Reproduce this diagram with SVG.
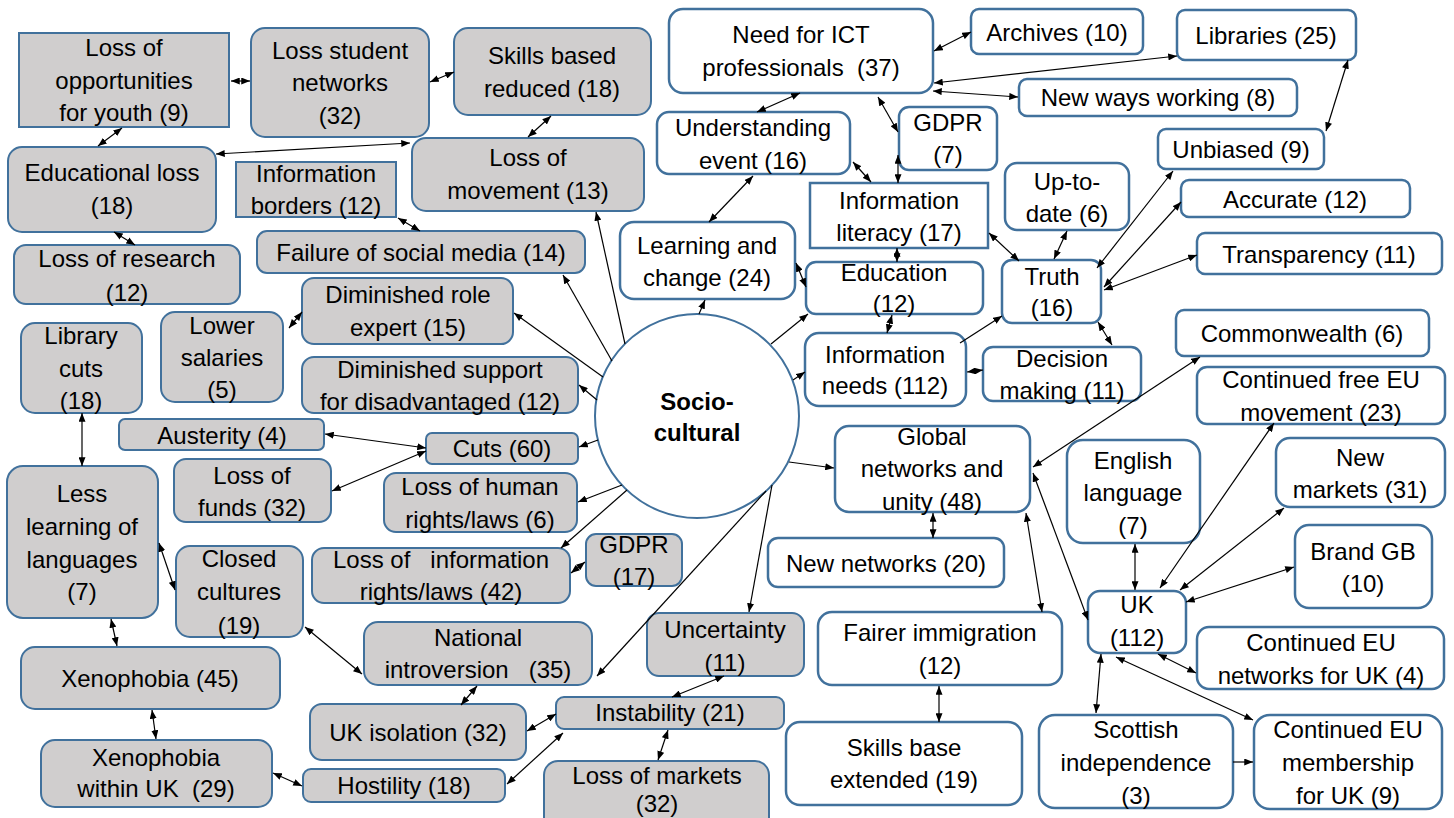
<svg xmlns="http://www.w3.org/2000/svg" width="1454" height="818" viewBox="0 0 1454 818">
<defs>
<marker id="ah" viewBox="0 0 10 8" refX="10" refY="4" markerWidth="9" markerHeight="7" markerUnits="userSpaceOnUse" orient="auto-start-reverse"><path d="M0,0 L10,4 L0,8 z" fill="#000"/></marker>
<style>
.g{fill:#d0cece;stroke:#41719c;stroke-width:2}
.w{fill:#fff;stroke:#41719c;stroke-width:2.5}
text{font-family:"Liberation Sans",Arial,sans-serif;font-size:24px;fill:#000;text-anchor:middle;white-space:pre}
.b{font-weight:bold}
#connectors line{stroke:#000;stroke-width:1.2;fill:none}
.d{marker-start:url(#ah);marker-end:url(#ah)}
.o{marker-end:url(#ah)}
</style>
</defs>
<rect width="1454" height="818" fill="#fff"/>
<g id="nodes">
<g id="n-opp"><rect class="g" x="19" y="33" width="210" height="94"/><text x="124"><tspan x="124" y="56">Loss of</tspan><tspan x="124" y="89">opportunities</tspan><tspan x="124" y="121">for youth (9)</tspan></text></g>
<g id="n-student"><rect class="g" x="251" y="28" width="178" height="109" rx="14"/><text><tspan x="340" y="59">Loss student</tspan><tspan x="340" y="91">networks</tspan><tspan x="340" y="124">(32)</tspan></text></g>
<g id="n-skillsred"><rect class="g" x="454" y="28" width="197" height="87" rx="14"/><text><tspan x="552" y="64">Skills based</tspan><tspan x="552" y="97">reduced (18)</tspan></text></g>
<g id="n-ict"><rect class="w" x="669" y="9" width="264" height="84" rx="14"/><text><tspan x="801" y="43">Need for ICT</tspan><tspan x="801" y="76">professionals  (37)</tspan></text></g>
<g id="n-archives"><rect class="w" x="971" y="9" width="172" height="45" rx="8"/><text x="1057" y="41">Archives (10)</text></g>
<g id="n-libraries"><rect class="w" x="1177" y="10" width="179" height="50" rx="8"/><text x="1266" y="44">Libraries (25)</text></g>
<g id="n-newways"><rect class="w" x="1019" y="79" width="278" height="37" rx="8"/><text x="1158" y="106">New ways working (8)</text></g>
<g id="n-gdpr7"><rect class="w" x="899" y="107" width="98" height="63" rx="10"/><text><tspan x="948" y="131">GDPR</tspan><tspan x="948" y="163">(7)</tspan></text></g>
<g id="n-unbiased"><rect class="w" x="1158" y="129" width="166" height="40" rx="8"/><text x="1241" y="158">Unbiased (9)</text></g>
<g id="n-understanding"><rect class="w" x="657" y="112" width="193" height="62" rx="12"/><text><tspan x="753" y="136">Understanding</tspan><tspan x="753" y="169">event (16)</tspan></text></g>
<g id="n-eduloss"><rect class="g" x="8" y="147" width="208" height="85" rx="14"/><text><tspan x="112" y="181">Educational loss</tspan><tspan x="112" y="214">(18)</tspan></text></g>
<g id="n-infoborders"><rect class="g" x="236" y="162" width="160" height="55"/><text><tspan x="316" y="182">Information</tspan><tspan x="316" y="214">borders (12)</tspan></text></g>
<g id="n-movement"><rect class="g" x="412" y="138" width="232" height="73" rx="14"/><text><tspan x="528" y="166">Loss of</tspan><tspan x="528" y="199">movement (13)</tspan></text></g>
<g id="n-infolit"><rect class="w" x="810" y="183" width="178" height="65"/><text><tspan x="899" y="209">Information</tspan><tspan x="899" y="241">literacy (17)</tspan></text></g>
<g id="n-uptodate"><rect class="w" x="1005" y="163" width="124" height="67" rx="12"/><text><tspan x="1067" y="190">Up-to-</tspan><tspan x="1067" y="222">date (6)</tspan></text></g>
<g id="n-accurate"><rect class="w" x="1181" y="180" width="229" height="37" rx="8"/><text x="1295" y="208">Accurate (12)</text></g>
<g id="n-transparency"><rect class="w" x="1197" y="233" width="245" height="41" rx="8"/><text x="1319" y="263">Transparency (11)</text></g>
<g id="n-learning"><rect class="w" x="620" y="222" width="175" height="77" rx="14"/><text><tspan x="707" y="254">Learning and</tspan><tspan x="707" y="286">change (24)</tspan></text></g>
<g id="n-failure"><rect class="g" x="257" y="231" width="328" height="42" rx="10"/><text x="421" y="261">Failure of social media (14)</text></g>
<g id="n-research"><rect class="g" x="14" y="245" width="226" height="59" rx="12"/><text><tspan x="127" y="267">Loss of research</tspan><tspan x="127" y="301">(12)</tspan></text></g>
<g id="n-education"><rect class="w" x="806" y="262" width="177" height="52" rx="10"/><text><tspan x="894" y="281">Education</tspan><tspan x="894" y="312">(12)</tspan></text></g>
<g id="n-truth"><rect class="w" x="1002" y="260" width="99" height="63" rx="10"/><text><tspan x="1052" y="285">Truth</tspan><tspan x="1052" y="316">(16)</tspan></text></g>
<g id="n-commonwealth"><rect class="w" x="1176" y="310" width="253" height="46" rx="8"/><text x="1302" y="342">Commonwealth (6)</text></g>
<g id="n-dimrole"><rect class="g" x="302" y="278" width="211" height="66" rx="12"/><text><tspan x="408" y="303">Diminished role</tspan><tspan x="408" y="336">expert (15)</tspan></text></g>
<g id="n-lowersal"><rect class="g" x="161" y="312" width="122" height="90" rx="14"/><text><tspan x="222" y="334">Lower</tspan><tspan x="222" y="366">salaries</tspan><tspan x="222" y="398">(5)</tspan></text></g>
<g id="n-libcuts"><rect class="g" x="21" y="323" width="121" height="90" rx="14"/><text><tspan x="81" y="344">Library</tspan><tspan x="81" y="377">cuts</tspan><tspan x="81" y="409">(18)</tspan></text></g>
<g id="n-dimsupport"><rect class="g" x="302" y="357" width="276" height="56" rx="12"/><text><tspan x="440" y="378">Diminished support</tspan><tspan x="440" y="410">for disadvantaged (12)</tspan></text></g>
<g id="n-socio"><ellipse class="w" cx="697" cy="416" rx="102" ry="102" style="stroke-width:2"/><text class="b"><tspan x="697" y="410">Socio-</tspan><tspan x="697" y="441">cultural</tspan></text></g>
<g id="n-infoneeds"><rect class="w" x="805" y="333" width="161" height="73" rx="14"/><text><tspan x="885" y="363">Information</tspan><tspan x="885" y="394">needs (112)</tspan></text></g>
<g id="n-decision"><rect class="w" x="983" y="347" width="158" height="54" rx="10"/><text><tspan x="1062" y="367">Decision</tspan><tspan x="1062" y="399">making (11)</tspan></text></g>
<g id="n-contfreeeu"><rect class="w" x="1197" y="367" width="248" height="57" rx="10"/><text><tspan x="1321" y="388">Continued free EU</tspan><tspan x="1321" y="421">movement (23)</tspan></text></g>
<g id="n-austerity"><rect class="g" x="119" y="419" width="205" height="31" rx="6"/><text x="222" y="444">Austerity (4)</text></g>
<g id="n-cuts"><rect class="g" x="426" y="433" width="152" height="31" rx="6"/><text x="502" y="457">Cuts (60)</text></g>
<g id="n-global"><rect class="w" x="835" y="426" width="195" height="86" rx="14"/><text><tspan x="932" y="445">Global</tspan><tspan x="932" y="477">networks and</tspan><tspan x="932" y="510">unity (48)</tspan></text></g>
<g id="n-english"><rect class="w" x="1067" y="440" width="133" height="103" rx="16"/><text><tspan x="1133" y="469">English</tspan><tspan x="1133" y="501">language</tspan><tspan x="1133" y="534">(7)</tspan></text></g>
<g id="n-newmarkets"><rect class="w" x="1276" y="438" width="169" height="69" rx="14"/><text><tspan x="1360" y="466">New</tspan><tspan x="1360" y="498">markets (31)</tspan></text></g>
<g id="n-funds"><rect class="g" x="174" y="459" width="157" height="63" rx="12"/><text><tspan x="252" y="484">Loss of</tspan><tspan x="252" y="516">funds (32)</tspan></text></g>
<g id="n-humanrights"><rect class="g" x="384" y="473" width="193" height="59" rx="12"/><text><tspan x="480" y="495">Loss of human</tspan><tspan x="480" y="528">rights/laws (6)</tspan></text></g>
<g id="n-lesslearning"><rect class="g" x="7" y="466" width="151" height="152" rx="16"/><text><tspan x="82" y="502">Less</tspan><tspan x="82" y="535">learning of</tspan><tspan x="82" y="568">languages</tspan><tspan x="82" y="600">(7)</tspan></text></g>
<g id="n-closed"><rect class="g" x="176" y="546" width="127" height="91" rx="14"/><text><tspan x="239" y="567">Closed</tspan><tspan x="239" y="600">cultures</tspan><tspan x="239" y="634">(19)</tspan></text></g>
<g id="n-inforights"><rect class="g" x="312" y="548" width="258" height="55" rx="12"/><text><tspan x="441" y="568">Loss of   information</tspan><tspan x="441" y="600">rights/laws (42)</tspan></text></g>
<g id="n-gdpr17"><rect class="g" x="586" y="534" width="96" height="52" rx="10"/><text><tspan x="634" y="553">GDPR</tspan><tspan x="634" y="585">(17)</tspan></text></g>
<g id="n-newnetworks"><rect class="w" x="768" y="538" width="236" height="49" rx="10"/><text x="886" y="572">New networks (20)</text></g>
<g id="n-brandgb"><rect class="w" x="1295" y="525" width="137" height="83" rx="14"/><text><tspan x="1363" y="560">Brand GB</tspan><tspan x="1363" y="592">(10)</tspan></text></g>
<g id="n-uk"><rect class="w" x="1088" y="591" width="98" height="62" rx="12"/><text><tspan x="1137" y="613">UK</tspan><tspan x="1137" y="646">(112)</tspan></text></g>
<g id="n-uncertainty"><rect class="g" x="647" y="613" width="157" height="63" rx="12"/><text><tspan x="725" y="638">Uncertainty</tspan><tspan x="725" y="671">(11)</tspan></text></g>
<g id="n-natintro"><rect class="g" x="364" y="622" width="228" height="63" rx="14"/><text><tspan x="478" y="646">National</tspan><tspan x="478" y="678">introversion   (35)</tspan></text></g>
<g id="n-fairer"><rect class="w" x="818" y="612" width="244" height="73" rx="14"/><text><tspan x="940" y="641">Fairer immigration</tspan><tspan x="940" y="674">(12)</tspan></text></g>
<g id="n-conteunet"><rect class="w" x="1197" y="627" width="247" height="62" rx="12"/><text><tspan x="1321" y="651">Continued EU</tspan><tspan x="1321" y="684">networks for UK (4)</tspan></text></g>
<g id="n-xeno45"><rect class="g" x="21" y="647" width="259" height="62" rx="14"/><text x="150" y="687">Xenophobia (45)</text></g>
<g id="n-ukiso"><rect class="g" x="310" y="704" width="216" height="56" rx="12"/><text x="418" y="741">UK isolation (32)</text></g>
<g id="n-instability"><rect class="g" x="556" y="697" width="228" height="32" rx="8"/><text x="670" y="721">Instability (21)</text></g>
<g id="n-xenouk"><rect class="g" x="41" y="740" width="231" height="67" rx="14"/><text><tspan x="156" y="766">Xenophobia</tspan><tspan x="156" y="797">within UK  (29)</tspan></text></g>
<g id="n-hostility"><rect class="g" x="303" y="769" width="202" height="33" rx="8"/><text x="404" y="794">Hostility (18)</text></g>
<g id="n-lossmarkets"><rect class="g" x="544" y="761" width="225" height="70" rx="14"/><text><tspan x="657" y="784">Loss of markets</tspan><tspan x="657" y="812">(32)</tspan></text></g>
<g id="n-skillsbase"><rect class="w" x="786" y="722" width="236" height="83" rx="14"/><text><tspan x="904" y="756">Skills base</tspan><tspan x="904" y="788">extended (19)</tspan></text></g>
<g id="n-scottish"><rect class="w" x="1039" y="715" width="194" height="93" rx="16"/><text><tspan x="1136" y="738">Scottish</tspan><tspan x="1136" y="771">independence</tspan><tspan x="1136" y="804">(3)</tspan></text></g>
<g id="n-conteumem"><rect class="w" x="1254" y="715" width="188" height="94" rx="16"/><text><tspan x="1348" y="738">Continued EU</tspan><tspan x="1348" y="771">membership</tspan><tspan x="1348" y="804">for UK (9)</tspan></text></g>
</g>
<g id="connectors">
<line class="d" x1="231" y1="81" x2="250" y2="81"/>
<line class="d" x1="430" y1="82" x2="454" y2="72"/>
<line class="d" x1="122" y1="128" x2="98" y2="146"/>
<line class="d" x1="216" y1="154" x2="410" y2="143"/>
<line class="d" x1="551" y1="116" x2="528" y2="137"/>
<line class="d" x1="114" y1="232" x2="135" y2="245"/>
<line class="d" x1="398" y1="218" x2="420" y2="231"/>
<line class="o" x1="625" y1="344" x2="596" y2="212"/>
<line class="o" x1="612" y1="361" x2="563" y2="275"/>
<line class="o" x1="603" y1="377" x2="514" y2="313"/>
<line class="o" x1="597" y1="400" x2="579" y2="385"/>
<line class="o" x1="598" y1="440" x2="579" y2="447"/>
<line class="d" x1="426" y1="448" x2="325" y2="434"/>
<line class="d" x1="426" y1="451" x2="332" y2="491"/>
<line class="o" x1="622" y1="485" x2="578" y2="502"/>
<line class="o" x1="627" y1="490" x2="561" y2="548"/>
<line class="d" x1="585" y1="562" x2="571" y2="573"/>
<line class="o" x1="766" y1="491" x2="597" y2="676"/>
<line class="o" x1="772" y1="485" x2="749" y2="612"/>
<line class="o" x1="771" y1="344" x2="808" y2="314"/>
<line class="o" x1="793" y1="380" x2="805" y2="372"/>
<line class="o" x1="789" y1="462" x2="834" y2="468"/>
<line class="o" x1="699" y1="314" x2="705" y2="300"/>
<line class="d" x1="934" y1="51" x2="971" y2="32"/>
<line class="d" x1="934" y1="83" x2="1177" y2="56"/>
<line class="d" x1="933" y1="91" x2="1018" y2="97"/>
<line class="d" x1="800" y1="93" x2="757" y2="112"/>
<line class="d" x1="878" y1="97" x2="898" y2="132"/>
<line class="d" x1="898" y1="155" x2="898" y2="183"/>
<line class="d" x1="853" y1="162" x2="871" y2="182"/>
<line class="d" x1="753" y1="176" x2="709" y2="222"/>
<line class="d" x1="1348" y1="60" x2="1326" y2="131"/>
<line class="d" x1="897" y1="248" x2="897" y2="262"/>
<line class="d" x1="796" y1="263" x2="806" y2="287"/>
<line class="d" x1="989" y1="233" x2="1019" y2="261"/>
<line class="d" x1="1067" y1="231" x2="1054" y2="259"/>
<line class="d" x1="1097" y1="268" x2="1173" y2="171"/>
<line class="d" x1="1104" y1="287" x2="1181" y2="202"/>
<line class="d" x1="1104" y1="290" x2="1197" y2="255"/>
<line class="d" x1="892" y1="315" x2="887" y2="333"/>
<line class="o" x1="960" y1="343" x2="1002" y2="316"/>
<line class="d" x1="1098" y1="322" x2="1112" y2="345"/>
<line class="d" x1="967" y1="372" x2="983" y2="370"/>
<line class="d" x1="1033" y1="467" x2="1200" y2="357"/>
<line class="d" x1="933" y1="513" x2="933" y2="538"/>
<line class="d" x1="1026" y1="513" x2="1042" y2="612"/>
<line class="d" x1="1033" y1="473" x2="1088" y2="620"/>
<line class="d" x1="1135" y1="544" x2="1135" y2="590"/>
<line class="d" x1="1274" y1="423" x2="1160" y2="588"/>
<line class="d" x1="1284" y1="508" x2="1180" y2="590"/>
<line class="d" x1="1294" y1="567" x2="1186" y2="602"/>
<line class="d" x1="82" y1="413" x2="82" y2="466"/>
<line class="d" x1="159" y1="543" x2="175" y2="590"/>
<line class="d" x1="289" y1="328" x2="302" y2="312"/>
<line class="d" x1="111" y1="619" x2="117" y2="646"/>
<line class="d" x1="305" y1="627" x2="362" y2="674"/>
<line class="d" x1="477" y1="686" x2="461" y2="705"/>
<line class="d" x1="724" y1="676" x2="672" y2="697"/>
<line class="d" x1="527" y1="731" x2="556" y2="714"/>
<line class="d" x1="563" y1="733" x2="507" y2="784"/>
<line class="d" x1="668" y1="730" x2="658" y2="760"/>
<line class="d" x1="152" y1="710" x2="156" y2="739"/>
<line class="d" x1="273" y1="773" x2="302" y2="786"/>
<line class="d" x1="939" y1="686" x2="939" y2="722"/>
<line class="d" x1="1101" y1="654" x2="1096" y2="713"/>
<line class="d" x1="1158" y1="654" x2="1196" y2="673"/>
<line class="d" x1="1116" y1="657" x2="1253" y2="720"/>
<line class="o" x1="1233" y1="762" x2="1253" y2="762"/>
</g>
</svg>
